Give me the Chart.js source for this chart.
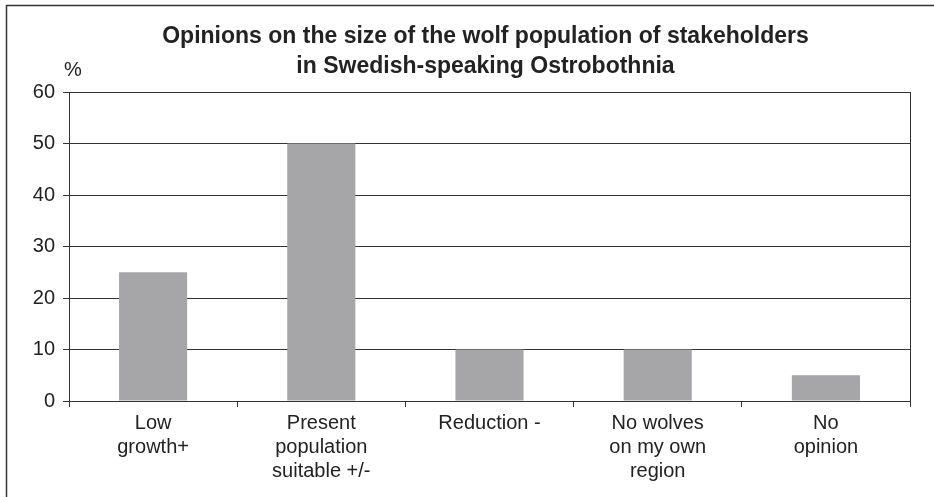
<!DOCTYPE html>
<html>
<head>
<meta charset="utf-8">
<script src="https://cdn.jsdelivr.net/npm/chart.js@4"></script>
<style>
  html, body { margin: 0; padding: 0; background: #fff; }
  #wrap { width: 934px; height: 497px; }
</style>
</head>
<body>
<div id="wrap"><canvas id="wolfChart" width="934" height="497"></canvas></div>
<script>
const categories = [
  ['Low', 'growth+'],
  ['Present', 'population', 'suitable +/-'],
  ['Reduction -'],
  ['No wolves', 'on my own', 'region'],
  ['No', 'opinion']
];
const shares = [25, 50, 10, 10, 5];
const titleLines = ['Opinions on the size of the wolf population of stakeholders', 'in Swedish-speaking Ostrobothnia'];
const yUnit = '%';

const ink = '#222222';
const lineColor = '#333333';

// frame, title and unit label
const decor = {
  id: 'decor',
  beforeDraw(chart) {
    const ctx = chart.ctx;
    ctx.save();
    ctx.strokeStyle = lineColor;
    ctx.lineWidth = 1.5;
    ctx.beginPath();
    ctx.moveTo(6.5, 497);
    ctx.lineTo(6.5, 5.5);
    ctx.lineTo(934, 5.5);
    ctx.stroke();
    ctx.restore();
  },
  afterDraw(chart) {
    const ctx = chart.ctx;
    const area = chart.chartArea;
    ctx.save();
    ctx.fillStyle = ink;
    ctx.textAlign = 'center';
    ctx.textBaseline = 'middle';
    ctx.font = 'bold 23px "Liberation Sans", Arial, sans-serif';
    const cx = (area.left + area.right) / 2 - 4;
    ctx.fillText(titleLines[0], cx, 37);
    ctx.fillText(titleLines[1], cx, 67);
    ctx.font = '20px "Liberation Sans", Arial, sans-serif';
    ctx.fillText(yUnit, 73, 70);
    // right border of plot area
    ctx.strokeStyle = lineColor;
    ctx.lineWidth = 1;
    ctx.beginPath();
    ctx.moveTo(Math.round(area.right) + 0.5, area.top);
    ctx.lineTo(Math.round(area.right) + 0.5, area.bottom + 6);
    ctx.stroke();
    ctx.restore();
  }
};

new Chart(document.getElementById('wolfChart'), {
  type: 'bar',
  data: {
    labels: categories,
    datasets: [{
      data: shares,
      backgroundColor: '#a6a6a8',
      borderWidth: 0,
      categoryPercentage: 1,
      barPercentage: 0.405
    }]
  },
  options: {
    responsive: false,
    animation: false,
    layout: { padding: { top: 92, right: 24, left: 0, bottom: 0 } },
    plugins: {
      legend: { display: false },
      title: { display: false },
      tooltip: { enabled: false }
    },
    scales: {
      x: {
        offset: true,
        afterFit: s => { s.height = 96; },
        grid: {
          offset: true,
          drawOnChartArea: false,
          drawTicks: true,
          tickLength: 6,
          color: lineColor
        },
        border: { color: lineColor, width: 1 },
        ticks: {
          color: ink,
          padding: 4,
          maxRotation: 0,
          autoSkip: false,
          font: { family: '"Liberation Sans", Arial, sans-serif', size: 20, lineHeight: 1.2 }
        }
      },
      y: {
        min: 0,
        max: 60,
        afterFit: s => { s.width = 69; },
        grid: {
          color: lineColor,
          lineWidth: 1,
          drawTicks: true,
          tickLength: 6
        },
        border: { color: lineColor, width: 1 },
        ticks: {
          stepSize: 10,
          color: ink,
          padding: 8,
          font: { family: '"Liberation Sans", Arial, sans-serif', size: 20 }
        }
      }
    }
  },
  plugins: [decor]
});
</script>
</body>
</html>
